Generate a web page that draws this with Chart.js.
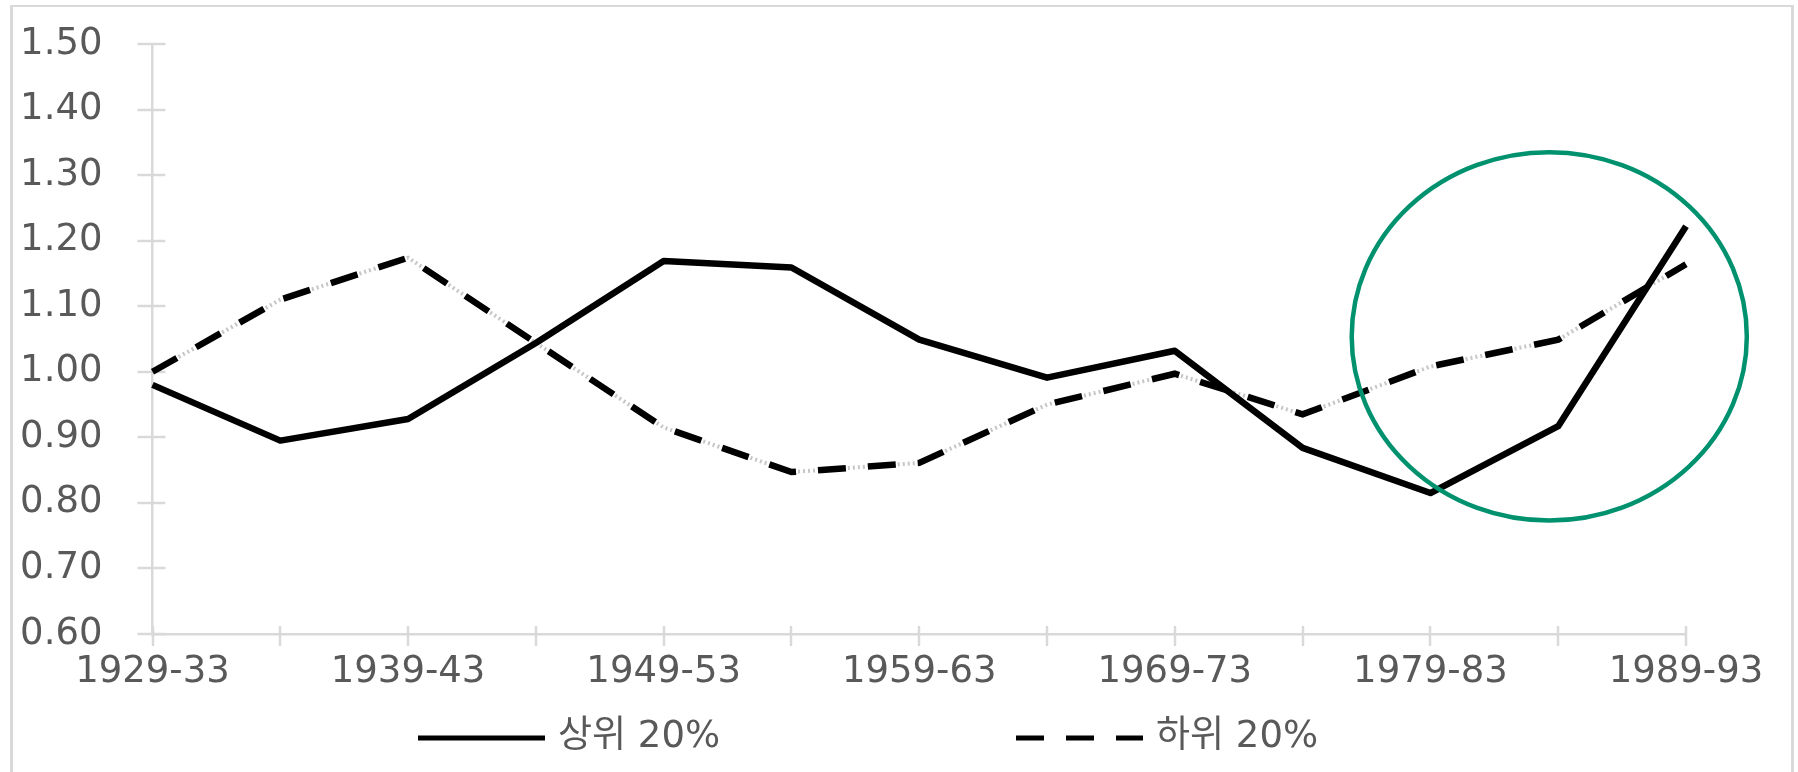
<!DOCTYPE html>
<html lang="ko">
<head>
<meta charset="utf-8">
<title>상위 20% / 하위 20%</title>
<script src="https://cdn.jsdelivr.net/npm/chart.js@4.4.1/dist/chart.umd.min.js"></script>
<style>
  html, body { margin: 0; padding: 0; background: #fff; }
  #wrap { position: relative; width: 1798px; height: 772px; overflow: hidden; background: #fff; }
  #frame {
    position: absolute; left: 10px; top: 5px; width: 1784px; height: 900px;
    box-sizing: border-box; border: solid #d9d9d9;
    border-width: 2px 3px 0 3px;
  }
  #chart { position: absolute; left: 0; top: 0; }
</style>
</head>
<body>
<div id="wrap">
  <div id="frame"></div>
  <canvas id="chart" width="1798" height="772"></canvas>
</div>
<script>
// Five-year periods on the category axis
const periods = ['1929-33', '1934-38', '1939-43', '1944-48', '1949-53', '1954-58', '1959-63',
                 '1964-68', '1969-73', '1974-78', '1979-83', '1984-88', '1989-93'];

// Ratio for the top and bottom quintiles in each period
const top20 = [0.980, 0.895, 0.928, 1.044, 1.169, 1.159, 1.049, 0.991, 1.032, 0.884, 0.815, 0.917, 1.222];
const bottom20 = [1.000, 1.110, 1.174, 1.044, 0.915, 0.847, 0.861, 0.950, 0.997, 0.935, 1.008, 1.049, 1.164];

const seriesNames = ['상위 20%', '하위 20%'];

// Value axis range and step
const yRange = [0.60, 1.50];
const yStep = 0.10;

// Highlighted region: centre (period index, value) and radii (periods, value units)
const ringCenter = [10.93, 1.054];
const ringRadius = [1.546, 0.281];

const FONT = "'DejaVu Sans', 'Noto Sans CJK KR', sans-serif";
const FONT_SIZE = 37;
const TEXT = '#595959';
const AXIS = '#d9d9d9';

// Cross-style tick marks on both axes
const crossTicks = {
  id: 'crossTicks',
  beforeDatasetsDraw(chart, args, o) {
    const { ctx, scales: { x, y } } = chart;
    ctx.save();
    ctx.strokeStyle = o.color;
    ctx.lineWidth = o.width;
    ctx.beginPath();
    y.ticks.forEach((t, i) => {
      const py = Math.round(y.getPixelForTick(i));
      ctx.moveTo(x.left - o.yOut, py);
      ctx.lineTo(x.left + o.yIn, py);
    });
    x.ticks.forEach((t, i) => {
      const px = Math.round(x.getPixelForTick(i));
      ctx.moveTo(px, y.bottom - o.xIn);
      ctx.lineTo(px, y.bottom + o.xOut);
    });
    ctx.stroke();
    ctx.restore();
  }
};

// Green ring around the late periods, placed in data units
const ring = {
  id: 'ring',
  afterDatasetsDraw(chart, args, o) {
    const { ctx, scales: { x, y } } = chart;
    const cx = x.getPixelForValue(o.center[0]);
    const cy = y.getPixelForValue(o.center[1]);
    const rx = Math.abs(x.getPixelForValue(o.center[0] + o.radius[0]) - cx);
    const ry = Math.abs(y.getPixelForValue(o.center[1] - o.radius[1]) - cy);
    ctx.save();
    ctx.strokeStyle = o.color;
    ctx.lineWidth = o.width;
    ctx.beginPath();
    ctx.ellipse(cx, cy, rx, ry, 0, 0, Math.PI * 2);
    ctx.stroke();
    ctx.restore();
  }
};

// Legend row: line sample followed by series name
const legendRow = {
  id: 'legendRow',
  afterDraw(chart, args, o) {
    const { ctx } = chart;
    ctx.save();
    ctx.font = `${o.size}px ${FONT}`;
    ctx.textBaseline = 'middle';
    ctx.textAlign = 'left';
    o.items.forEach((it) => {
      const ds = chart.data.datasets[it.dataset];
      ctx.strokeStyle = ds.borderColor;
      ctx.lineWidth = o.lineWidth;
      ctx.lineCap = 'butt';
      ctx.setLineDash(it.dash || []);
      ctx.beginPath();
      ctx.moveTo(it.x, o.y);
      ctx.lineTo(it.x + o.sample, o.y);
      ctx.stroke();
      ctx.setLineDash([]);
      ctx.fillStyle = o.color;
      ctx.fillText(ds.label, it.x + o.sample + o.gap, o.y - 1);
    });
    ctx.restore();
  }
};

// Keep the plot area exactly where the layout padding puts it
const noLabelOverhang = (s) => {
  s.paddingTop = 0; s.paddingBottom = 0; s.paddingLeft = 0; s.paddingRight = 0;
};

new Chart(document.getElementById('chart'), {
  type: 'line',
  data: {
    labels: periods,
    datasets: [
      {
        label: seriesNames[0], data: top20,
        borderColor: '#000', borderWidth: 6.5, pointRadius: 0, tension: 0,
        borderJoinStyle: 'round'
      },
      {
        label: seriesNames[1], data: bottom20,
        borderColor: '#000', borderWidth: 6.5, borderDash: [28, 22], pointRadius: 0, tension: 0
      },
      {
        // faint grey trace beneath the dashed series
        label: '', data: bottom20,
        borderColor: '#c6c6c6', borderWidth: 4, borderDash: [2, 3], pointRadius: 0, tension: 0
      }
    ]
  },
  options: {
    responsive: false,
    animation: false,
    devicePixelRatio: 1,
    layout: { padding: { left: 0, right: 112, top: 44, bottom: 0 } },
    plugins: {
      legend: { display: false },
      tooltip: { enabled: false },
      crossTicks: { color: AXIS, width: 2.5, yOut: 15, yIn: 13, xIn: 8, xOut: 12 },
      ring: { center: ringCenter, radius: ringRadius, color: '#00916e', width: 4.5 },
      legendRow: {
        y: 738, size: FONT_SIZE, color: TEXT, lineWidth: 5, sample: 127, gap: 13,
        items: [
          { dataset: 0, x: 418 },
          { dataset: 1, x: 1016, dash: [28, 22] }
        ]
      }
    },
    scales: {
      x: {
        type: 'category',
        grid: { display: true, drawOnChartArea: false, drawTicks: false },
        border: { display: true, color: AXIS, width: 2.5 },
        ticks: {
          autoSkip: false, maxRotation: 0, padding: 16, color: TEXT,
          font: { family: FONT, size: FONT_SIZE },
          callback: (v, i) => (i % 2 === 0 ? periods[i] : '')
        },
        afterFit: (s) => { s.height = 138; noLabelOverhang(s); }
      },
      y: {
        min: yRange[0], max: yRange[1],
        grid: { display: true, drawOnChartArea: false, drawTicks: false },
        border: { display: true, color: AXIS, width: 2.5 },
        ticks: {
          stepSize: yStep, padding: 50, color: TEXT,
          font: { family: FONT, size: FONT_SIZE },
          callback: (v) => Number(v).toFixed(2)
        },
        afterFit: (s) => { s.width = 152.5; noLabelOverhang(s); }
      }
    }
  },
  plugins: [crossTicks, ring, legendRow]
});
</script>
</body>
</html>
